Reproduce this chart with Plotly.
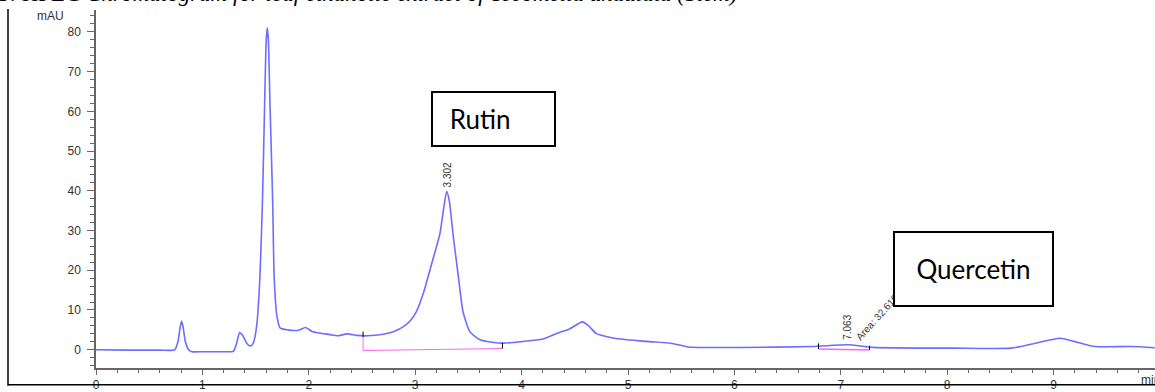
import plotly.graph_objects as go

# ---- data ----
time_min = [0.00, 0.30, 0.60, 0.74, 0.77, 0.79, 0.805, 0.82, 0.84, 0.87, 0.90, 1.00, 1.20, 1.29,
            1.32, 1.35, 1.38, 1.42, 1.45, 1.48, 1.51, 1.54, 1.565, 1.585, 1.60, 1.61, 1.62, 1.635,
            1.66, 1.675, 1.70, 1.73, 1.80, 1.90, 1.97, 2.03, 2.10, 2.20, 2.27, 2.36, 2.45, 2.55,
            2.70, 2.80, 2.89, 2.96, 3.01, 3.08, 3.14, 3.19, 3.233, 3.27, 3.296, 3.32, 3.358, 3.405,
            3.45, 3.515, 3.61, 3.72, 3.83, 4.00, 4.20, 4.34, 4.45, 4.57, 4.63, 4.70, 4.74, 4.87,
            5.17, 5.40, 5.57, 6.07, 6.73, 7.07, 7.30, 8.06, 8.60, 8.83, 9.06, 9.19, 9.39, 9.73, 9.95]
signal_mau = [0.0, -0.1, -0.1, 0.0, 2.0, 5.5, 7.2, 5.5, 2.0, 0.0, -0.5, -0.5, -0.5, -0.4,
              1.5, 4.3, 3.5, 1.5, 0.9, 1.8, 6.0, 18.0, 38.0, 62.0, 78.0, 81.0, 78.0, 62.0,
              38.0, 18.0, 8.5, 5.5, 5.0, 4.9, 5.6, 4.6, 4.2, 3.8, 3.5, 4.0, 3.6, 3.5,
              3.9, 4.6, 5.8, 7.5, 9.5, 14.5, 20.2, 25.0, 29.3, 36.0, 39.9, 37.5, 28.5, 18.6,
              9.5, 4.5, 2.5, 1.9, 1.65, 2.05, 2.7, 4.2, 5.2, 7.0, 6.0, 4.1, 3.7, 2.9,
              2.1, 1.65, 0.7, 0.57, 0.8, 1.25, 0.6, 0.4, 0.4, 1.65, 2.9, 2.1, 0.8, 0.8, 0.5]

x_ticks = [0, 1, 2, 3, 4, 5, 6, 7, 8, 9]
y_ticks = [0, 10, 20, 30, 40, 50, 60, 70, 80]

# integration baselines: (start time, start value, end time, end value)
rutin_base_t = [2.51, 3.82]
rutin_base_v = [-0.2, 0.3]
rutin_peak_t = 3.302
rutin_peak_v = 40.3
quer_base_t = [6.79, 7.27]
quer_base_v = [0.17, -0.05]
quer_peak_t = 7.063
quer_peak_v = 2.0
quer_area = "Area: 32.6103"

# ---- layout geometry (pixels) ----
W, H = 1155, 392
L, R, T, B = 96, 0, 10, 18
PW, PH = W - L - R, H - T - B


def px_x(p):
    return (p - L) / PW


def px_y(p):
    return (H - B - p) / PH


fig = go.Figure()
fig.add_trace(go.Scatter(
    x=time_min, y=signal_mau, mode="lines",
    line=dict(color="rgba(60,60,255,0.75)", width=1.6, shape="spline", smoothing=0.6),
    hoverinfo="skip", showlegend=False))

pink = "#ff66ee"
# Rutin baseline + drop line
fig.add_trace(go.Scatter(
    x=[rutin_base_t[0], rutin_base_t[0], rutin_base_t[1]],
    y=[3.2, rutin_base_v[0], rutin_base_v[1]],
    mode="lines", line=dict(color=pink, width=1), hoverinfo="skip", showlegend=False))
fig.add_trace(go.Scatter(
    x=[rutin_base_t[0], rutin_base_t[0], None, rutin_base_t[1], rutin_base_t[1]],
    y=[4.6, 3.2, None, 1.7, rutin_base_v[1]],
    mode="lines", line=dict(color="black", width=1), hoverinfo="skip", showlegend=False))
# Quercetin baseline
fig.add_trace(go.Scatter(
    x=quer_base_t, y=quer_base_v,
    mode="lines", line=dict(color=pink, width=1.5), hoverinfo="skip", showlegend=False))
fig.add_trace(go.Scatter(
    x=[quer_base_t[0], quer_base_t[0], None, quer_base_t[1], quer_base_t[1]],
    y=[1.6, quer_base_v[0], None, 1.0, quer_base_v[1]],
    mode="lines", line=dict(color="black", width=1), hoverinfo="skip", showlegend=False))

axis_col = "#666666"
lab_font = dict(family="Liberation Sans, Arial", size=12, color="#333333")

fig.update_xaxes(range=[0, PW / 106.4], tickvals=x_ticks, ticktext=[str(v) for v in x_ticks],
                 showgrid=False, zeroline=False, showline=True, linecolor=axis_col, linewidth=1.5,
                 ticks="outside", ticklen=5, tickwidth=1, tickcolor=axis_col, tickfont=lab_font,
                 minor=dict(dtick=0.2, tick0=0, ticks="outside", ticklen=3, tickcolor=axis_col, showgrid=False),
                 fixedrange=True)
fig.update_yaxes(range=[-4.6, -4.6 + PH / 4.04], tickvals=y_ticks, ticktext=[str(v) for v in y_ticks],
                 showgrid=False, zeroline=False, showline=True, linecolor=axis_col, linewidth=1.5,
                 ticks="outside", ticklen=7, tickwidth=1, tickcolor=axis_col, tickfont=lab_font,
                 ticklabelstandoff=4,
                 minor=dict(dtick=2, tick0=0, ticks="outside", ticklen=4, tickcolor=axis_col, showgrid=False),
                 fixedrange=True)

ann = []
# title (cut at the top of the page, as in the source)
ann.append(dict(xref="paper", yref="paper", x=px_x(-4), y=px_y(-7), xanchor="left", yanchor="middle",
                text="5: HPLC <i>Chromatogram for leaf ethanolic extract of Tecomella undulata (Stem)</i>",
                showarrow=False, font=dict(family="Liberation Serif, Times New Roman", size=23, color="black")))
ann.append(dict(xref="paper", yref="paper", x=px_x(35), y=px_y(16), xanchor="left", yanchor="middle",
                text="mAU", showarrow=False, font=lab_font))
ann.append(dict(xref="paper", yref="paper", x=px_x(1139), y=px_y(386), xanchor="left", yanchor="middle",
                text="min", showarrow=False, font=lab_font))
# peak labels
ann.append(dict(x=rutin_peak_t, y=rutin_peak_v, xref="x", yref="y", xanchor="center", yanchor="bottom",
                text="3.302", textangle=-90, showarrow=False,
                font=dict(family="Liberation Sans, Arial", size=10, color="#333333")))
ann.append(dict(x=quer_peak_t, y=quer_peak_v, xref="x", yref="y", xanchor="center", yanchor="bottom",
                text="7.063", textangle=-90, showarrow=False,
                font=dict(family="Liberation Sans, Arial", size=10, color="#333333")))
ann.append(dict(xref="paper", yref="paper", x=px_x(879), y=px_y(321), xanchor="center", yanchor="middle",
                text=quer_area, textangle=-48, showarrow=False,
                font=dict(family="Liberation Sans, Arial", size=10, color="#333333")))
# boxed compound names
ann.append(dict(xref="paper", yref="paper", x=px_x(493.5), y=px_y(121), xanchor="center", yanchor="middle",
                text="Rutin&nbsp;&nbsp;&nbsp;&nbsp;", showarrow=False, width=121, height=52, borderwidth=2,
                borderpad=0, bordercolor="black", bgcolor="white", align="center",
                font=dict(family="Lato, Liberation Sans", size=26, color="black")))
ann.append(dict(xref="paper", yref="paper", x=px_x(973.5), y=px_y(273.5), xanchor="center", yanchor="middle",
                text="Quercetin", showarrow=False, width=157, height=72, borderwidth=2, borderpad=0,
                bordercolor="black", bgcolor="white", align="center",
                font=dict(family="Lato, Liberation Sans", size=26, color="black")))

shapes = [
    dict(type="line", xref="paper", yref="paper", x0=px_x(8), x1=px_x(8), y0=px_y(9), y1=px_y(392),
         line=dict(color="black", width=1.5)),
    dict(type="line", xref="paper", yref="paper", x0=px_x(8), x1=px_x(1160), y0=px_y(391), y1=px_y(391),
         line=dict(color="black", width=1.5)),
]

fig.update_layout(width=W, height=H, margin=dict(l=L, r=R, t=T, b=B, pad=0),
                  paper_bgcolor="white", plot_bgcolor="white",
                  annotations=ann, shapes=shapes, showlegend=False)

fig.write_html("out.html", config={"displayModeBar": False})
